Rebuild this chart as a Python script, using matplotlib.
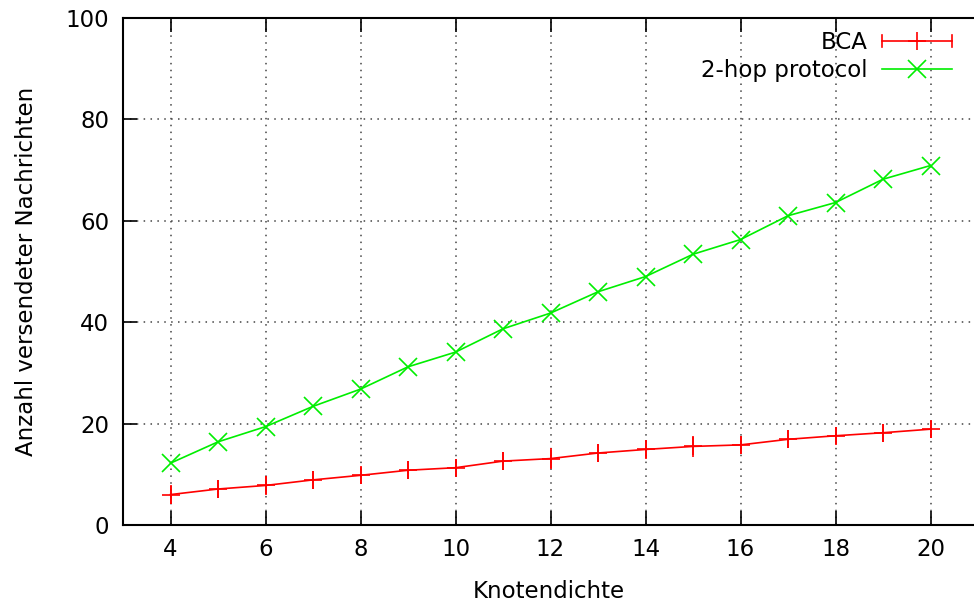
import numpy as np
import matplotlib
matplotlib.use('Agg')
import matplotlib.pyplot as plt
from matplotlib.lines import Line2D
from matplotlib.legend_handler import HandlerBase

# data
knoten = [4, 5, 6, 7, 8, 9, 10, 11, 12, 13, 14, 15, 16, 17, 18, 19, 20]
bca = [6.0, 7.1, 7.8, 8.9, 9.8, 10.8, 11.3, 12.6, 13.1, 14.2, 14.9, 15.5, 15.8, 16.9, 17.6, 18.2, 18.9]
bca_err = [1.8, 1.8, 1.8, 1.8, 1.7, 1.8, 1.7, 1.8, 2.0, 1.8, 1.8, 2.0, 1.8, 1.8, 1.7, 1.8, 1.7]
two_hop = [12.2, 16.4, 19.4, 23.4, 26.8, 31.2, 34.1, 38.7, 41.8, 46.0, 49.0, 53.4, 56.3, 61.0, 63.6, 68.2, 70.9]

x_ticks = [4, 6, 8, 10, 12, 14, 16, 18, 20]
y_ticks = [0, 20, 40, 60, 80, 100]

red = '#ff0000'
green = '#00ee00'
fs = 16.5


class GnuplotErrHandler(HandlerBase):
    """key sample like gnuplot: horizontal line with end caps and a + in the middle"""
    def create_artists(self, legend, orig_handle, xdescent, ydescent,
                       width, height, fontsize, trans):
        y = height / 2 - ydescent
        x0, x1 = -xdescent, width - xdescent
        cap = height * 0.4
        arts = [
            Line2D([x0, x1], [y, y], color=red, lw=1.2),
            Line2D([x0, x0], [y - cap, y + cap], color=red, lw=1.2),
            Line2D([x1, x1], [y - cap, y + cap], color=red, lw=1.2),
            Line2D([(x0 + x1) / 2], [y], color=red, marker='+', ms=13, mew=1.2, ls='none'),
        ]
        for a in arts:
            a.set_transform(trans)
        return arts


fig = plt.figure(figsize=(9.74, 6.04), dpi=100)
ax = fig.add_axes([123 / 974, 79 / 604, 851 / 974, 507 / 604])

ax.errorbar(knoten, bca, yerr=bca_err, color=red, lw=1.2, marker='+', ms=13,
            mew=1.2, elinewidth=1.2, capsize=0)
ax.plot(knoten, two_hop, color=green, lw=1.2, marker='x', ms=13, mew=1.2)

ax.set_xlim(3, 3 + 851 / 47.5)
ax.set_ylim(0, 100)
ax.set_xticks(x_ticks)
ax.set_yticks(y_ticks)
ax.tick_params(direction='in', length=10, width=1.2, labelsize=fs,
               top=True, right=False)
ax.tick_params(axis='y', pad=10)
ax.tick_params(axis='x', pad=9)
for side in ['left', 'bottom', 'top']:
    ax.spines[side].set_linewidth(1.5)
ax.spines['right'].set_visible(False)

ax.grid(True, color='#444444', linestyle=(0, (1, 3.5)), linewidth=1.1)
ax.set_axisbelow(True)

ax.set_xlabel('Knotendichte', fontsize=fs, labelpad=14)
ax.set_ylabel('Anzahl versendeter Nachrichten', fontsize=fs, labelpad=20)

h_bca = Line2D([], [], color=red)
h_hop = Line2D([], [], color=green, lw=1.2, marker='x', ms=13, mew=1.2)
ax.legend([h_bca, h_hop], ['BCA', '2-hop protocol'], loc='upper right',
          bbox_to_anchor=((952 - 123) / 851, (525 - 31) / 507), frameon=False,
          fontsize=fs, markerfirst=False, handlelength=3.05, handletextpad=0.65,
          labelspacing=0.2, borderaxespad=0, borderpad=0,
          handler_map={h_bca: GnuplotErrHandler()})

fig.savefig('out.png', dpi=100)
